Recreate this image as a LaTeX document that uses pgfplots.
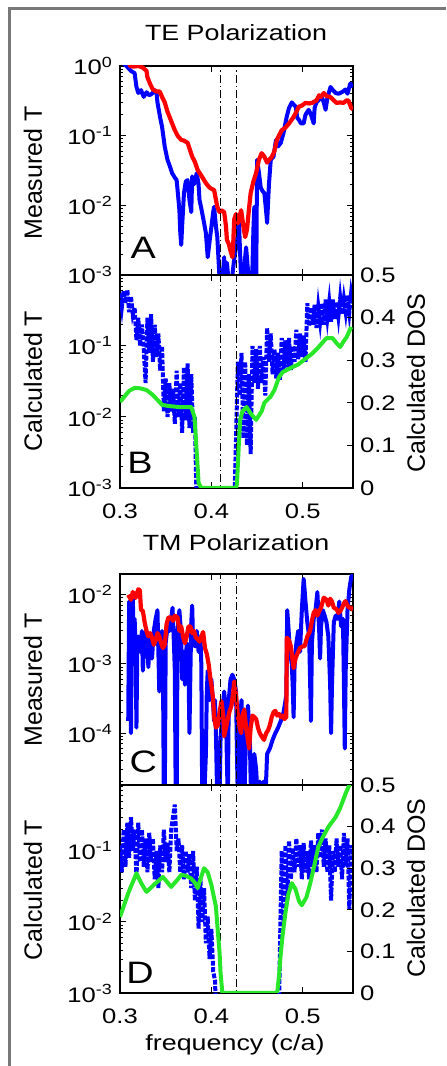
\documentclass[border=0pt]{standalone}
\usepackage{pgfplots}
\pgfplotsset{compat=1.18}
\usepackage{fontspec}
\setmainfont{Liberation Sans}[FakeStretch=1.22]
\newfontfamily\rotfont{Liberation Sans}
\definecolor{myblue}{RGB}{0,0,255}
\definecolor{myred}{RGB}{255,0,0}
\definecolor{mygreen}{RGB}{40,230,40}
\definecolor{framegray}{RGB}{120,120,120}
\tikzset{letter/.style={font=\fontsize{15.5}{16}\selectfont},
 bl/.style={myblue, line width=2pt, line join=round},
 rd/.style={myred, line width=2.1pt, line join=round},
 bd/.style={myblue, line width=2pt, dash pattern=on 2.4pt off 0.8pt},
 gr/.style={mygreen, line width=2pt, line join=round},
 dd/.style={black, line width=0.5pt, dash pattern=on 4pt off 1.5pt on 0.7pt off 1.5pt}}
\pgfplotsset{
 base/.style={scale only axis, width=116.5pt, xmin=0.3, xmax=0.555,
   xtick={0.3,0.4,0.5}, tick align=inside, major tick length=3pt, minor tick length=1.6pt,
   axis line style={line width=0.6pt}, every tick/.style={black, line width=0.5pt},
   tick label style={font=\fontsize{10.5}{12}\selectfont},
   xticklabel style={yshift=-4.5pt}, anchor=south west},
 minA/.style={minor ytick={2e-3,3e-3,4e-3,5e-3,6e-3,7e-3,8e-3,9e-3,2e-2,3e-2,4e-2,5e-2,6e-2,7e-2,8e-2,9e-2,2e-1,3e-1,4e-1,5e-1,6e-1,7e-1,8e-1,9e-1}},
 minC/.style={minor ytick={2e-5,3e-5,4e-5,5e-5,6e-5,7e-5,8e-5,9e-5,2e-4,3e-4,4e-4,5e-4,6e-4,7e-4,8e-4,9e-4,2e-3,3e-3,4e-3,5e-3,6e-3,7e-3,8e-3,9e-3}},
}
\newcommand{\sps}[1]{10\textsuperscript{#1}}
\begin{document}
\begin{tikzpicture}
\path[use as bounding box] (0,0) rectangle (223pt,533pt);
\draw[framegray, line width=1.5pt] (4.75pt,0) -- (4.75pt,528.5pt) -- (223pt,528.5pt);
\node[font=\fontsize{11}{12}\selectfont] at (118pt,516.5pt) {TE Polarization};
\node[font=\fontsize{11}{12}\selectfont] at (118pt,261.5pt) {TM Polarization};
\node[rotate=90, font=\rotfont\fontsize{12.5}{13}\selectfont] at (16.5pt,446.5pt) {Measured T};
\node[rotate=90, font=\rotfont\fontsize{12.5}{13}\selectfont] at (16.5pt,342.5pt) {Calculated T};
\node[rotate=90, font=\rotfont\fontsize{12.5}{13}\selectfont] at (16.5pt,193pt) {Measured T};
\node[rotate=90, font=\rotfont\fontsize{12.5}{13}\selectfont] at (16.5pt,88pt) {Calculated T};
\node[rotate=90, font=\rotfont\fontsize{12.5}{13}\selectfont] at (208pt,341.5pt) {Calculated DOS};
\node[rotate=90, font=\rotfont\fontsize{12.5}{13}\selectfont] at (208pt,89pt) {Calculated DOS};
\node[font=\fontsize{11}{12}\selectfont] at (117.5pt,10.5pt) {frequency (c/a)};

% ---------------- Panel A ----------------
\begin{axis}[base, minA, at={(60pt,395.5pt)}, height=104.5pt, ymode=log, ymin=1e-3, ymax=1,
  ytick={1e-3,1e-2,1e-1,1}, yticklabels={\sps{-3},\sps{-2},\sps{-1},\sps{0}}, xticklabels={}]
\addplot[bl] coordinates {(0.300,1.2) (0.307,1.0) (0.312,0.85) (0.316,0.79) (0.318,0.5) (0.320,0.41) (0.323,0.45) (0.326,0.36) (0.329,0.42) (0.332,0.38) (0.335,0.40) (0.338,0.45) (0.340,0.41) (0.341,0.30) (0.344,0.18) (0.346,0.135) (0.349,0.069) (0.352,0.045) (0.355,0.035) (0.357,0.029) (0.360,0.025) (0.362,0.023) (0.364,0.012) (0.365,0.0085) (0.366,0.004) (0.367,0.0027) (0.368,0.005) (0.370,0.015) (0.372,0.022) (0.374,0.023) (0.376,0.012) (0.378,0.008) (0.379,0.026) (0.381,0.02) (0.384,0.029) (0.386,0.02) (0.387,0.012) (0.389,0.009) (0.392,0.0056) (0.394,0.004) (0.396,0.0018) (0.398,0.003) (0.400,0.0049) (0.402,0.008) (0.403,0.0095) (0.405,0.005) (0.4065,0.0035) (0.408,0.0015) (0.410,0.0005) (0.412,0.0008) (0.414,0.0018) (0.415,0.0006) (0.417,0.0015) (0.419,0.0008) (0.421,0.0004) (0.423,0.001) (0.425,0.0017) (0.427,0.0025) (0.429,0.004) (0.430,0.007) (0.431,0.003) (0.433,0.0006) (0.435,0.0009) (0.437,0.0018) (0.438,0.0025) (0.440,0.0012) (0.442,0.0005) (0.444,0.0004) (0.446,0.0045) (0.447,0.0095) (0.448,0.0009) (0.449,0.0005) (0.450,0.045) (0.452,0.03) (0.454,0.018) (0.456,0.016) (0.458,0.015) (0.460,0.008) (0.461,0.0056) (0.463,0.02) (0.465,0.045) (0.468,0.05) (0.4707,0.087) (0.473,0.07) (0.476,0.079) (0.479,0.11) (0.481,0.15) (0.4826,0.19) (0.485,0.25) (0.488,0.30) (0.490,0.28) (0.4924,0.26) (0.494,0.18) (0.4957,0.17) (0.498,0.15) (0.501,0.15) (0.503,0.2) (0.5065,0.235) (0.509,0.2) (0.512,0.15) (0.513,0.25) (0.515,0.30) (0.518,0.33) (0.5207,0.36) (0.523,0.30) (0.525,0.235) (0.527,0.35) (0.5304,0.50) (0.533,0.45) (0.536,0.41) (0.539,0.40) (0.541,0.41) (0.544,0.43) (0.5467,0.46) (0.549,0.40) (0.552,0.56) (0.555,0.5)};
\addplot[rd] coordinates {(0.300,1.3) (0.309,1.2) (0.311,1.0) (0.315,0.98) (0.320,1.0) (0.325,0.95) (0.329,0.85) (0.330,0.69) (0.333,0.55) (0.336,0.46) (0.340,0.43) (0.3435,0.43) (0.346,0.36) (0.349,0.30) (0.352,0.22) (0.354,0.19) (0.357,0.15) (0.360,0.12) (0.363,0.10) (0.367,0.087) (0.370,0.085) (0.374,0.079) (0.377,0.06) (0.379,0.05) (0.382,0.042) (0.385,0.032) (0.388,0.028) (0.392,0.023) (0.395,0.02) (0.398,0.018) (0.401,0.017) (0.403,0.0166) (0.405,0.012) (0.4065,0.0095) (0.409,0.008) (0.411,0.0085) (0.414,0.008) (0.416,0.005) (0.417,0.0032) (0.419,0.0028) (0.421,0.0022) (0.423,0.0018) (0.424,0.003) (0.425,0.0063) (0.427,0.0075) (0.429,0.0055) (0.4326,0.0085) (0.435,0.005) (0.437,0.0035) (0.439,0.0045) (0.441,0.0085) (0.443,0.015) (0.446,0.022) (0.449,0.029) (0.452,0.045) (0.455,0.056) (0.458,0.05) (0.461,0.041) (0.463,0.045) (0.466,0.049) (0.469,0.06) (0.4717,0.087) (0.474,0.1) (0.477,0.12) (0.481,0.13) (0.485,0.15) (0.488,0.17) (0.490,0.186) (0.493,0.22) (0.4957,0.26) (0.499,0.27) (0.503,0.295) (0.507,0.29) (0.510,0.295) (0.513,0.31) (0.515,0.32) (0.518,0.38) (0.520,0.36) (0.523,0.41) (0.526,0.37) (0.530,0.36) (0.533,0.33) (0.537,0.295) (0.541,0.30) (0.5446,0.295) (0.548,0.32) (0.550,0.32) (0.553,0.25) (0.555,0.24)};
\addplot[dd] coordinates {(0.41,1e-4) (0.41,10)};
\addplot[dd] coordinates {(0.428,1e-4) (0.428,10)};
\node[letter] at (rel axis cs:0.1,0.13) {A};
\end{axis}

% ---------------- Panel B ----------------
\begin{axis}[base, minA, at={(60pt,289pt)}, height=106.5pt, ymode=log, ymin=1e-3, ymax=1, ytick pos=left,
  ytick={1e-3,1e-2,1e-1}, yticklabels={\sps{-3},\sps{-2},\sps{-1}}, xticklabels={0.3,0.4,0.5}]
\addplot[bd] coordinates {(0.300,0.55) (0.302,0.35) (0.304,0.6) (0.306,0.4) (0.308,0.62) (0.310,0.3) (0.312,0.5) (0.314,0.28) (0.316,0.35) (0.318,0.12) (0.320,0.25) (0.322,0.1) (0.324,0.2) (0.326,0.09) (0.328,0.03) (0.330,0.25) (0.332,0.08) (0.334,0.28) (0.336,0.06) (0.338,0.2) (0.340,0.07) (0.342,0.15) (0.344,0.045) (0.346,0.1) (0.348,0.012) (0.350,0.035) (0.352,0.01) (0.354,0.03) (0.356,0.012) (0.358,0.025) (0.360,0.008) (0.362,0.045) (0.364,0.01) (0.366,0.03) (0.368,0.006) (0.370,0.05) (0.372,0.009) (0.374,0.057) (0.376,0.007) (0.378,0.04) (0.380,0.006) (0.382,0.01) (0.383,0.002) (0.384,0.0005) (0.425,0.0005) (0.427,0.005) (0.429,0.06) (0.431,0.02) (0.433,0.08) (0.435,0.005) (0.437,0.06) (0.439,0.004) (0.441,0.04) (0.443,0.003) (0.445,0.1) (0.447,0.03) (0.449,0.09) (0.451,0.025) (0.453,0.1) (0.455,0.03) (0.457,0.07) (0.459,0.02) (0.461,0.18) (0.463,0.06) (0.465,0.15) (0.467,0.04) (0.469,0.09) (0.471,0.035) (0.473,0.08) (0.475,0.033) (0.477,0.13) (0.479,0.045) (0.481,0.12) (0.483,0.05) (0.485,0.13) (0.487,0.046) (0.489,0.1) (0.491,0.06) (0.493,0.17) (0.495,0.065) (0.497,0.15) (0.499,0.07) (0.501,0.14) (0.503,0.06) (0.505,0.4) (0.507,0.19) (0.509,0.35) (0.511,0.2) (0.513,0.38) (0.515,0.18) (0.517,0.36) (0.519,0.22) (0.521,0.4) (0.523,0.2) (0.525,0.45) (0.527,0.25) (0.529,0.42) (0.531,0.22) (0.533,0.45) (0.535,0.24) (0.537,0.42) (0.539,0.26) (0.541,0.48) (0.543,0.28) (0.545,0.46) (0.547,0.3) (0.549,0.52) (0.551,0.3) (0.553,0.56) (0.555,0.4)};
\addplot[dd] coordinates {(0.41,1e-4) (0.41,10)};
\addplot[dd] coordinates {(0.428,1e-4) (0.428,10)};
\node[letter] at (rel axis cs:0.086,0.117) {B};
\end{axis}
\begin{axis}[base, at={(60pt,289pt)}, height=106.5pt, ymin=0, ymax=0.5, axis y line*=right, axis x line=none,
  ytick={0,0.1,0.2,0.3,0.4,0.5}, yticklabels={0,0.1,0.2,0.3,0.4,0.5}]
\addplot[gr] coordinates {(0.300,0.202) (0.305,0.215) (0.310,0.228) (0.316,0.235) (0.322,0.234) (0.329,0.23) (0.335,0.22) (0.341,0.207) (0.346,0.195) (0.355,0.192) (0.365,0.19) (0.378,0.19) (0.3815,0.167) (0.3835,0.1) (0.386,0.012) (0.389,0.0) (0.427,0.0) (0.428,0.01) (0.430,0.1) (0.4315,0.16) (0.434,0.18) (0.4385,0.19) (0.443,0.175) (0.449,0.16) (0.455,0.18) (0.458,0.2) (0.465,0.215) (0.469,0.23) (0.474,0.26) (0.478,0.272) (0.487,0.282) (0.495,0.29) (0.504,0.305) (0.51,0.315) (0.517,0.33) (0.526,0.352) (0.5326,0.352) (0.537,0.34) (0.541,0.331) (0.545,0.345) (0.548,0.354) (0.553,0.378)};
\end{axis}

% ---------------- Panel C ----------------
\begin{axis}[base, minC, at={(60pt,140.5pt)}, height=105.5pt, ymode=log, ymin=1.78e-5, ymax=0.02,
  ytick={1e-4,1e-3,1e-2}, yticklabels={\sps{-4},\sps{-3},\sps{-2}}, xticklabels={}]
\addplot[bl] coordinates {(0.309,0.00015) (0.310,0.008) (0.311,0.006) (0.312,0.0001) (0.313,0.0045) (0.314,0.009) (0.315,0.0025) (0.316,0.0045) (0.317,0.002) (0.318,0.00012) (0.319,0.002) (0.320,0.0025) (0.322,0.0015) (0.324,0.003) (0.325,0.0008) (0.327,0.0025) (0.329,0.003) (0.330,0.002) (0.331,0.0009) (0.333,0.0025) (0.335,0.0012) (0.337,0.003) (0.339,0.0045) (0.341,0.006) (0.342,0.0015) (0.343,0.0004) (0.344,0.002) (0.346,0.003) (0.347,0.001) (0.348,0.00001) (0.349,0.00001) (0.350,0.002) (0.352,0.0035) (0.354,0.003) (0.356,0.0045) (0.3575,0.0065) (0.359,0.002) (0.360,0.0008) (0.361,0.00001) (0.362,0.00001) (0.363,0.003) (0.365,0.006) (0.367,0.0025) (0.368,0.0006) (0.370,0.0015) (0.371,0.0005) (0.373,0.002) (0.375,0.0008) (0.376,0.0001) (0.377,0.0007) (0.378,0.004) (0.379,0.007) (0.380,0.002) (0.382,0.0018) (0.384,0.003) (0.386,0.0015) (0.388,0.0025) (0.389,0.001) (0.390,0.00001) (0.392,0.00001) (0.394,0.00005) (0.395,0.0004) (0.396,0.0008) (0.398,0.0003) (0.400,0.0006) (0.402,0.00025) (0.403,0.00015) (0.404,0.0003) (0.405,0.0001) (0.406,0.00002) (0.407,0.00001) (0.409,0.00001) (0.410,0.00008) (0.412,0.0002) (0.414,0.0004) (0.416,0.0002) (0.417,0.00004) (0.418,0.00001) (0.419,0.0003) (0.421,0.0006) (0.423,0.0007) (0.425,0.0006) (0.427,0.0004) (0.428,0.00005) (0.429,0.00001) (0.431,0.00001) (0.432,0.0002) (0.433,0.0003) (0.434,0.00004) (0.436,0.00001) (0.438,0.0001) (0.440,0.00025) (0.442,0.0001) (0.443,0.00002) (0.445,0.00001) (0.447,0.00005) (0.449,0.00003) (0.451,0.00001) (0.453,0.00002) (0.455,0.00001) (0.457,0.00002) (0.459,0.00001) (0.461,0.00005) (0.464,0.00006) (0.467,0.00008) (0.470,0.0001) (0.473,0.00012) (0.476,0.00015) (0.479,0.0002) (0.482,0.00035) (0.483,0.006) (0.484,0.004) (0.486,0.0015) (0.488,0.001) (0.489,0.0005) (0.490,0.00017) (0.491,0.0009) (0.493,0.002) (0.495,0.003) (0.497,0.0015) (0.499,0.006) (0.501,0.017) (0.502,0.012) (0.503,0.008) (0.505,0.004) (0.507,0.0025) (0.509,0.00015) (0.510,0.002) (0.512,0.0045) (0.514,0.006) (0.516,0.011) (0.518,0.003) (0.519,0.0012) (0.520,0.0035) (0.522,0.006) (0.524,0.005) (0.526,0.004) (0.528,0.0025) (0.530,0.0005) (0.531,0.0001) (0.532,0.0005) (0.534,0.004) (0.536,0.005) (0.538,0.0045) (0.540,0.008) (0.542,0.0035) (0.544,0.0045) (0.545,0.0006) (0.546,0.00006) (0.547,0.0008) (0.549,0.006) (0.551,0.012) (0.553,0.018) (0.555,0.02)};
\addplot[rd] coordinates {(0.309,0.01) (0.312,0.0085) (0.314,0.011) (0.317,0.009) (0.320,0.012) (0.3217,0.0117) (0.323,0.006) (0.325,0.0059) (0.327,0.004) (0.329,0.003) (0.331,0.0025) (0.333,0.0028) (0.335,0.0024) (0.337,0.0019) (0.339,0.0022) (0.341,0.0028) (0.343,0.0025) (0.345,0.002) (0.347,0.0017) (0.349,0.0019) (0.351,0.0038) (0.353,0.0047) (0.356,0.0047) (0.358,0.0042) (0.360,0.005) (0.363,0.0047) (0.365,0.003) (0.367,0.0035) (0.369,0.0025) (0.371,0.002) (0.373,0.0025) (0.375,0.0035) (0.377,0.0035) (0.379,0.0028) (0.381,0.003) (0.383,0.0024) (0.385,0.0023) (0.387,0.0021) (0.389,0.0025) (0.391,0.0029) (0.393,0.0017) (0.395,0.0014) (0.397,0.001) (0.399,0.0006) (0.400,0.0005) (0.402,0.0003) (0.403,0.00017) (0.405,0.00012) (0.407,0.00013) (0.409,0.0002) (0.411,0.00029) (0.413,0.00018) (0.414,0.00009) (0.416,0.00012) (0.418,0.00016) (0.420,0.00021) (0.422,0.00025) (0.424,0.0004) (0.425,0.00056) (0.427,0.00035) (0.429,0.00018) (0.431,0.00012) (0.4326,0.0001) (0.434,0.00018) (0.436,0.00022) (0.438,0.00012) (0.4413,0.00006) (0.443,0.00012) (0.445,0.00018) (0.447,0.00017) (0.449,0.00016) (0.451,0.00012) (0.453,0.0001) (0.455,0.00009) (0.4576,0.00008) (0.460,0.0001) (0.462,0.00011) (0.464,0.00013) (0.466,0.00017) (0.468,0.0002) (0.470,0.00021) (0.472,0.00018) (0.474,0.00019) (0.476,0.00017) (0.478,0.00018) (0.480,0.00016) (0.482,0.00017) (0.4826,0.0024) (0.485,0.0022) (0.487,0.0018) (0.490,0.00087) (0.492,0.0012) (0.495,0.0015) (0.497,0.0017) (0.500,0.0018) (0.502,0.0018) (0.505,0.0025) (0.508,0.003) (0.510,0.0042) (0.512,0.0055) (0.514,0.006) (0.516,0.005) (0.518,0.0058) (0.520,0.0065) (0.523,0.0091) (0.526,0.0085) (0.528,0.007) (0.530,0.0088) (0.532,0.008) (0.534,0.0065) (0.537,0.0062) (0.539,0.0055) (0.541,0.0058) (0.543,0.0065) (0.545,0.0075) (0.5467,0.0081) (0.549,0.007) (0.551,0.0065) (0.553,0.0065) (0.555,0.006)};
\addplot[dd] coordinates {(0.41,1e-6) (0.41,1)};
\addplot[dd] coordinates {(0.428,1e-6) (0.428,1)};
\node[letter] at (rel axis cs:0.1,0.11) {C};
\end{axis}

% ---------------- Panel D ----------------
\begin{axis}[base, minA, at={(60pt,36.5pt)}, height=104pt, ymode=log, ymin=1e-3, ymax=0.85, ytick pos=left,
  ytick={1e-3,1e-2,1e-1}, yticklabels={\sps{-3},\sps{-2},\sps{-1}}, xticklabels={0.3,0.4,0.5}]
\addplot[bd] coordinates {(0.300,0.12) (0.302,0.05) (0.304,0.2) (0.306,0.06) (0.308,0.25) (0.310,0.08) (0.312,0.3) (0.314,0.1) (0.316,0.2) (0.318,0.04) (0.320,0.25) (0.322,0.07) (0.324,0.2) (0.326,0.06) (0.328,0.15) (0.330,0.05) (0.332,0.18) (0.334,0.07) (0.336,0.15) (0.338,0.04) (0.340,0.1) (0.342,0.03) (0.344,0.12) (0.346,0.05) (0.348,0.2) (0.350,0.07) (0.352,0.13) (0.354,0.05) (0.356,0.2) (0.358,0.3) (0.360,0.45) (0.362,0.1) (0.364,0.15) (0.366,0.05) (0.368,0.12) (0.370,0.04) (0.372,0.1) (0.374,0.05) (0.376,0.09) (0.378,0.03) (0.380,0.1) (0.382,0.02) (0.384,0.06) (0.386,0.008) (0.388,0.04) (0.390,0.01) (0.392,0.03) (0.394,0.005) (0.396,0.012) (0.398,0.003) (0.400,0.008) (0.402,0.002) (0.404,0.0015) (0.405,0.0005) (0.474,0.0005) (0.475,0.004) (0.477,0.1) (0.479,0.01) (0.481,0.12) (0.483,0.02) (0.485,0.14) (0.487,0.04) (0.489,0.11) (0.491,0.05) (0.493,0.15) (0.495,0.06) (0.497,0.12) (0.499,0.04) (0.501,0.13) (0.503,0.05) (0.505,0.1) (0.507,0.04) (0.509,0.14) (0.511,0.06) (0.513,0.12) (0.515,0.05) (0.517,0.18) (0.519,0.08) (0.521,0.2) (0.523,0.06) (0.525,0.15) (0.527,0.05) (0.529,0.12) (0.531,0.02) (0.533,0.1) (0.535,0.05) (0.537,0.15) (0.539,0.06) (0.541,0.12) (0.543,0.04) (0.545,0.18) (0.547,0.06) (0.549,0.15) (0.551,0.015) (0.553,0.12) (0.555,0.08)};
\addplot[dd] coordinates {(0.41,1e-4) (0.41,10)};
\addplot[dd] coordinates {(0.428,1e-4) (0.428,10)};
\node[letter] at (rel axis cs:0.086,0.096) {D};
\end{axis}
\begin{axis}[base, at={(60pt,36.5pt)}, height=104pt, ymin=0, ymax=0.5, axis y line*=right, axis x line=none,
  ytick={0,0.1,0.2,0.3,0.4,0.5}, yticklabels={0,0.1,0.2,0.3,0.4,0.5}]
\addplot[gr] coordinates {(0.300,0.183) (0.309,0.24) (0.318,0.288) (0.323,0.265) (0.329,0.243) (0.338,0.262) (0.347,0.279) (0.356,0.255) (0.362,0.27) (0.367,0.284) (0.372,0.282) (0.378,0.275) (0.382,0.265) (0.385,0.252) (0.389,0.28) (0.392,0.30) (0.396,0.29) (0.400,0.26) (0.405,0.207) (0.407,0.15) (0.409,0.096) (0.410,0.05) (0.412,0.0) (0.472,0.0) (0.474,0.04) (0.476,0.096) (0.478,0.14) (0.481,0.192) (0.484,0.235) (0.488,0.264) (0.492,0.25) (0.496,0.22) (0.499,0.211) (0.504,0.23) (0.508,0.262) (0.512,0.3) (0.517,0.351) (0.522,0.375) (0.528,0.399) (0.536,0.423) (0.541,0.445) (0.547,0.48) (0.552,0.505) (0.555,0.52)};
\end{axis}
\end{tikzpicture}
\end{document}
